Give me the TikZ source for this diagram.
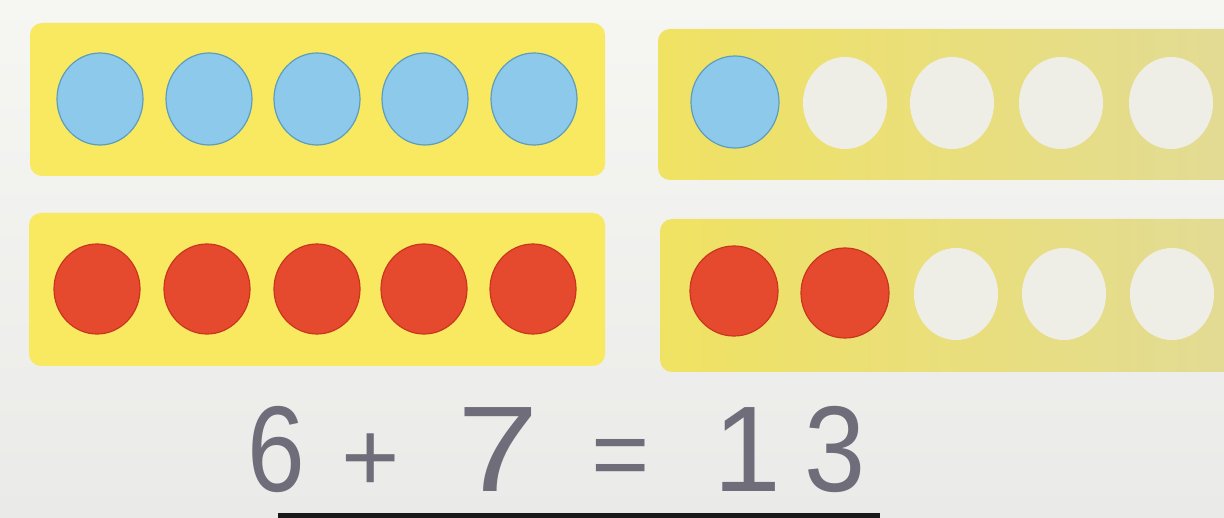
\documentclass[tikz,border=0pt]{standalone}
\usepackage{fontspec}
\setmainfont{Liberation Sans}
\definecolor{bgtop}{HTML}{F6F6F3}
\definecolor{bgbot}{HTML}{EAEAE8}
\definecolor{frameY}{HTML}{F8E961}
\definecolor{frameYR}{HTML}{F0E262}
\definecolor{frameYF}{HTML}{E2DB95}
\definecolor{blueDot}{HTML}{8DC9EA}
\definecolor{blueEdge}{HTML}{5E9DBB}
\definecolor{redDot}{HTML}{E64A2E}
\definecolor{redEdge}{HTML}{C9361E}
\definecolor{holeC}{HTML}{EFEEE6}
\definecolor{inkC}{HTML}{6F6D7A}
\tikzset{
  frameL/.style={fill=frameY, rounded corners=12pt},
  frameR/.style={left color=frameYR, right color=frameYF, rounded corners=12pt},
  bdot/.style={fill=blueDot, draw=blueEdge, line width=1.2pt},
  rdot/.style={fill=redDot, draw=redEdge, line width=1.2pt},
  hole/.style={fill=holeC},
  ink/.style={text=inkC, font=\fontsize{122}{122}\selectfont, inner sep=0pt, anchor=base},
  inksm/.style={ink, font=\fontsize{100}{100}\selectfont}
}
\begin{document}
\begin{tikzpicture}[x=1pt,y=-1pt]
\useasboundingbox (0,0) rectangle (1224,518);
\shade[top color=bgtop, bottom color=bgbot] (0,0) rectangle (1224,518);
% frames
\path[frameL] (30,23) rectangle (605,176);
\path[frameR] (658,29) rectangle (1240,180);
\path[frameL] (29,213) rectangle (605,366);
\path[frameR] (660,219) rectangle (1240,372);
% top-left blue dots
\foreach \x in {100,209,317,425,534}
  \path[bdot] (\x,99) ellipse [x radius=43, y radius=46];
% top-right
\path[bdot] (735,102) ellipse [x radius=44, y radius=46];
\foreach \x in {845,952,1061,1171}
  \path[hole] (\x,103) ellipse [x radius=42, y radius=46];
% bottom-left red dots
\foreach \x in {97,207,317,424,533}
  \path[rdot] (\x,289) ellipse [x radius=43, y radius=45];
% bottom-right
\path[rdot] (734,291) ellipse [x radius=44, y radius=45];
\path[rdot] (845,293) ellipse [x radius=44, y radius=45];
\foreach \x in {956,1064,1172}
  \path[hole] (\x,294) ellipse [x radius=42, y radius=46];
% equation
\node[ink, xscale=0.85] (six) at (276,492) {6};
\node[inksm] (plus) at (371,492) {+};
\node[ink, xscale=1.2] (seven) at (498,492) {7};
\node[inksm] (eq) at (621,488) {=};
\node[ink] (one) at (747,492) {1};
\node[ink, xscale=0.9] (three) at (835,492) {3};
% black bar
\fill[black!90] (278,513) rectangle (880,518);
\end{tikzpicture}
\end{document}
